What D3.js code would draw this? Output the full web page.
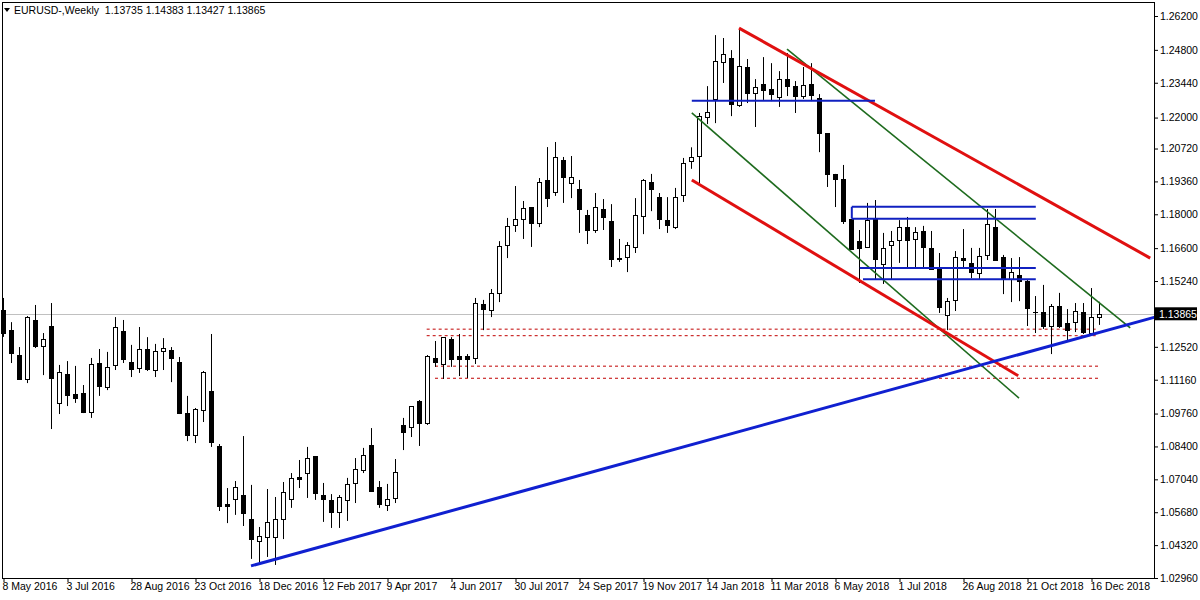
<!DOCTYPE html>
<html><head><meta charset="utf-8">
<script src="https://cdn.jsdelivr.net/npm/d3@7"></script>
<style>body{margin:0;background:#fff}svg{display:block}text{font-family:"Liberation Sans",Arial,sans-serif}</style>
</head><body><svg id="c" width="1200" height="600"></svg>
<script>
const title = "EURUSD-,Weekly  1.13735 1.14383 1.13427 1.13865";
const currentPrice = 1.13865;
const dateLabels = ["8 May 2016","3 Jul 2016","28 Aug 2016","23 Oct 2016","18 Dec 2016","12 Feb 2017","9 Apr 2017","4 Jun 2017","30 Jul 2017","24 Sep 2017","19 Nov 2017","14 Jan 2018","11 Mar 2018","6 May 2018","1 Jul 2018","26 Aug 2018","21 Oct 2018","16 Dec 2018"];
const dateLabelWeeks = [0,8,16,24,32,40,48,56,64,72,80,88,96,104,112,120,128,136];
const priceTicks = [1.26200,1.24800,1.23440,1.22000,1.20720,1.19360,1.18000,1.16600,1.15240,1.12520,1.11160,1.09760,1.08400,1.07040,1.05680,1.04320,1.02960];
// weekly OHLC: [open, high, low, close]
const opens  = [1.1404,1.1321,1.1218,1.1119,1.1363,1.1255,1.1338,1.1020,1.1140,1.1057,1.1061,1.0982,1.1185,1.1086,1.1177,1.1317,1.1189,1.1164,1.1243,1.1156,1.1235,1.1239,1.1189,1.0978,1.0887,1.0991,1.1069,1.0842,1.0602,1.0623,1.0639,1.0540,1.0449,1.0466,1.0466,1.0540,1.0623,1.0714,1.0730,1.0800,1.0639,1.0619,1.0569,1.0619,1.0689,1.0743,1.0846,1.0672,1.0598,1.0627,1.0929,1.0920,1.1028,1.0937,1.1206,1.1181,1.1284,1.1214,1.1214,1.1206,1.1429,1.1404,1.1474,1.1673,1.1756,1.1781,1.1830,1.1764,1.1942,1.1892,1.2024,1.1929,1.1905,1.1797,1.1735,1.1822,1.1772,1.1619,1.1623,1.1665,1.1793,1.1933,1.1871,1.1777,1.1747,1.1880,1.2020,1.2041,1.2202,1.2277,1.2430,1.2446,1.2252,1.2409,1.2301,1.2339,1.2318,1.2285,1.2359,1.2330,1.2289,1.2339,1.2281,1.2136,1.1967,1.1946,1.1780,1.1689,1.1665,1.1781,1.1594,1.1673,1.1694,1.1747,1.1698,1.1731,1.1661,1.1574,1.1384,1.1446,1.1619,1.1599,1.1557,1.1632,1.1747,1.1623,1.1532,1.1549,1.1524,1.1396,1.1396,1.1338,1.1421,1.1350,1.1354,1.1396,1.1309,1.13735];
const highs  = [1.1454,1.1354,1.1251,1.1379,1.1425,1.1309,1.1433,1.1177,1.1193,1.1173,1.1094,1.1206,1.1243,1.1231,1.1375,1.1363,1.1260,1.1334,1.1292,1.1264,1.1288,1.1251,1.1210,1.1049,1.0999,1.1152,1.1305,1.0850,1.0668,1.0697,1.0883,1.0681,1.0507,1.0664,1.0631,1.0693,1.0730,1.0784,1.0838,1.0800,1.0689,1.0643,1.0639,1.0710,1.0792,1.0834,1.0916,1.0697,1.0685,1.0788,1.0958,1.1007,1.1032,1.1218,1.1276,1.1292,1.1292,1.1305,1.1222,1.1454,1.1446,1.1491,1.1689,1.1785,1.1917,1.1855,1.1830,1.1950,1.2078,1.2099,1.2037,1.2041,1.1942,1.1818,1.1888,1.1863,1.1842,1.1698,1.1685,1.1867,1.1946,1.1967,1.1888,1.1871,1.1909,1.2033,1.2077,1.2219,1.2330,1.2541,1.2529,1.2479,1.2570,1.2442,1.2359,1.2450,1.2425,1.2392,1.2467,1.2351,1.2409,1.2425,1.2297,1.2136,1.1967,1.2004,1.1780,1.1735,1.1847,1.1859,1.1723,1.1731,1.1776,1.1789,1.1747,1.1752,1.1731,1.1640,1.1454,1.1648,1.1739,1.1661,1.1661,1.1822,1.1822,1.1632,1.1619,1.1623,1.1532,1.1462,1.1508,1.1429,1.1475,1.1408,1.1433,1.1433,1.1495,1.14383];
const lows   = [1.1293,1.1185,1.1115,1.1102,1.1247,1.1135,1.0912,1.0974,1.1007,1.1020,1.0978,1.0958,1.1049,1.1073,1.1156,1.1185,1.1127,1.1144,1.1152,1.1127,1.1156,1.1106,1.0974,1.0862,1.0854,1.0941,1.0838,1.0573,1.0523,1.0557,1.0511,1.0375,1.0358,1.0383,1.0350,1.0457,1.0586,1.0668,1.0627,1.0619,1.0528,1.0503,1.0503,1.0532,1.0606,1.0730,1.0656,1.0586,1.0573,1.0606,1.0825,1.0879,1.0842,1.0929,1.1169,1.1119,1.1169,1.1131,1.1123,1.1181,1.1321,1.1375,1.1437,1.1619,1.1727,1.1698,1.1665,1.1747,1.1830,1.1876,1.1847,1.1867,1.1723,1.1677,1.1723,1.1735,1.1582,1.1603,1.1561,1.1640,1.1718,1.1813,1.1739,1.1723,1.1739,1.1851,1.1988,1.1929,1.2173,1.2177,1.2343,1.2206,1.2244,1.2260,1.2161,1.2273,1.2268,1.2244,1.2289,1.2219,1.2277,1.2268,1.2057,1.1913,1.1830,1.1760,1.1652,1.1516,1.1661,1.1532,1.1512,1.1532,1.1599,1.1578,1.1578,1.1578,1.1570,1.1392,1.1321,1.1400,1.1582,1.1536,1.1532,1.1611,1.1607,1.1470,1.1437,1.1441,1.1338,1.1309,1.1326,1.1222,1.1330,1.1272,1.1313,1.1305,1.1305,1.13427];
const closes = [1.1309,1.1226,1.1119,1.1375,1.1255,1.1284,1.1123,1.1148,1.1053,1.1040,1.0982,1.1181,1.1090,1.1169,1.1334,1.1202,1.1160,1.1243,1.1160,1.1235,1.1247,1.1206,1.0978,1.0887,1.0995,1.1148,1.0858,1.0594,1.0594,1.0672,1.0565,1.0457,1.0470,1.0528,1.0540,1.0652,1.0710,1.0705,1.0792,1.0648,1.0623,1.0569,1.0631,1.0685,1.0747,1.0805,1.0656,1.0602,1.0623,1.0734,1.0900,1.1007,1.0937,1.1214,1.1189,1.1292,1.1202,1.1202,1.1202,1.1433,1.1408,1.1474,1.1669,1.1752,1.1781,1.1826,1.1764,1.1933,1.1867,1.2037,1.1954,1.1954,1.1822,1.1735,1.1830,1.1789,1.1615,1.1615,1.1673,1.1797,1.1942,1.1905,1.1781,1.1756,1.1871,1.2012,1.2037,1.2206,1.2223,1.2434,1.2463,1.2256,1.2413,1.2301,1.2326,1.2314,1.2297,1.2359,1.2330,1.2289,1.2335,1.2293,1.2136,1.1967,1.1946,1.1772,1.1656,1.1661,1.1776,1.1615,1.1661,1.1689,1.1747,1.1694,1.1727,1.1665,1.1574,1.1417,1.1441,1.1623,1.1611,1.1561,1.1627,1.1760,1.1611,1.1532,1.1561,1.1524,1.1413,1.1396,1.1338,1.1421,1.1338,1.1321,1.1400,1.1313,1.1375,1.13865];
// drawn objects: [week1, price1, week2, price2]
const trendBlue = [[31,1.0346,144,1.1375]];
const levelsBlue = [[86.1,1.2270,109,1.2270],[106.1,1.1831,129.1,1.1831],[106.1,1.1782,129.1,1.1782],[107.1,1.1578,129.1,1.1578],[107.5,1.1531,129.1,1.1531],[106.1,1.1831,106.1,1.1782]];
const channelRed = [[92,1.2570,143.4,1.1619],[86.1,1.1942,126.9,1.1132]];
const channelGreen = [[98,1.2483,140.9,1.1330],[86.1,1.2219,127,1.1040]];
const dashedRed = [[52.96,1.1325,136.9,1.1325],[52.96,1.1298,136.9,1.1298],[54,1.1172,136.9,1.1172],[54,1.1122,136.9,1.1122]];

const svg = d3.select("#c");
const L=2,T=2,R=1154,B=578;
const x = d3.scaleLinear().domain([0,1]).range([3,11]);
const y = d3.scaleLinear().domain([1.02960,1.26200]).range([578,16]);
const px = v=>Math.round(v)+0.5;

svg.append("rect").attr("x",L+0.5).attr("y",T+0.5).attr("width",R-L).attr("height",B-T).attr("fill","#fff").attr("stroke","#000");
const g = svg.append("g");
g.append("line").attr("x1",L).attr("x2",R).attr("y1",px(y(currentPrice))).attr("y2",px(y(currentPrice))).attr("stroke","#c0c0c0");

const seg=(arr,color,w,dash)=>g.selectAll(null).data(arr).enter().append("line")
  .attr("x1",d=>x(d[0])).attr("y1",d=>y(d[1])).attr("x2",d=>x(d[2])).attr("y2",d=>y(d[3]))
  .attr("stroke",color).attr("stroke-width",w).attr("stroke-dasharray",dash||null);
seg(dashedRed,"#c00000",1,"3,3");

const data = opens.map((o,i)=>({i,o,h:highs[i],l:lows[i],c:closes[i]}));
const cg = g.selectAll(null).data(data).enter().append("g");
cg.append("line").attr("x1",d=>px(x(d.i))).attr("x2",d=>px(x(d.i))).attr("y1",d=>y(d.h)).attr("y2",d=>y(d.l)).attr("stroke","#000");
cg.append("rect").attr("x",d=>Math.round(x(d.i))-2+0.5).attr("width",4)
  .attr("y",d=>Math.round(y(Math.max(d.o,d.c)))+0.5).attr("height",d=>Math.max(0.01,Math.round(y(Math.min(d.o,d.c)))-Math.round(y(Math.max(d.o,d.c)))))
  .attr("fill",d=>d.c>=d.o?"#fff":"#000").attr("stroke","#000");

seg(channelGreen,"#1e6b1e",1.6);
seg(channelRed,"#e01010",3);
seg(levelsBlue,"#1020c0",2);
seg(trendBlue,"#1020d0",3);

// axes
svg.append("g").attr("transform",`translate(0,${B})`).call(d3.axisBottom(x).tickValues(dateLabelWeeks).tickSize(4).tickFormat((d,i)=>dateLabels[i]))
  .call(a=>{a.select(".domain").remove();a.selectAll("line").attr("transform","translate(0.5,0)");a.selectAll("text").attr("text-anchor","start").attr("dx",-1).attr("dy","0.5em").attr("font-size",10.5).attr("fill","#000").attr("font-family","Liberation Sans, Arial");});
svg.append("g").attr("transform",`translate(${R},0)`).call(d3.axisRight(y).tickValues(priceTicks).tickSize(4).tickFormat(d3.format(".5f")))
  .call(a=>{a.select(".domain").remove();a.selectAll("text").attr("x",6).attr("font-size",10.5).attr("fill","#000").attr("font-family","Liberation Sans, Arial");});
svg.select("rect").raise().lower();
// current price label
const cy=y(currentPrice);
svg.append("rect").attr("x",R).attr("y",cy-7).attr("width",43).attr("height",13).attr("fill","#000");
svg.append("text").attr("x",R+5).attr("y",cy+4).attr("fill","#fff").attr("font-size",10.5).text(d3.format(".5f")(currentPrice));
// header
svg.append("path").attr("d","M4,8 L10,8 L7,12 Z").attr("fill","#000");
svg.append("text").attr("x",14).attr("y",14).attr("font-size",10.5).attr("fill","#000").attr("xml:space","preserve").style("white-space","pre").text(title);
</script></body></html>
